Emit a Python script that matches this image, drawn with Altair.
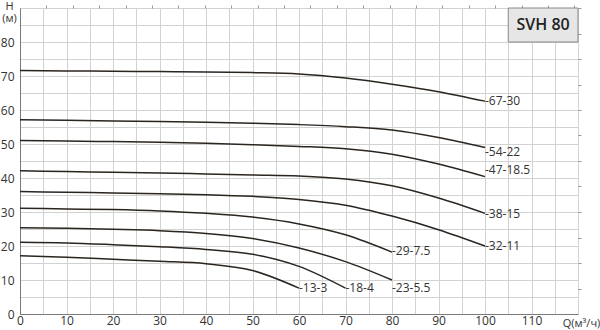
import altair as alt
import pandas as pd

# ---- data ----
series_names = ["67-30", "54-22", "47-18.5", "38-15", "32-11", "29-7.5", "23-5.5", "18-4", "13-3"]

q_full = [0, 10, 20, 30, 40, 50, 60, 70, 80, 90, 100]
q_80 = [0, 10, 20, 30, 40, 50, 60, 70, 80]
q_70 = [0, 10, 20, 30, 40, 50, 60, 70]
q_60 = [0, 10, 20, 30, 40, 50, 60]

h_67_30 = [71.6, 71.5, 71.4, 71.3, 71.2, 71.0, 70.6, 69.4, 67.6, 65.4, 62.6]
h_54_22 = [57.1, 57.0, 56.8, 56.6, 56.4, 56.1, 55.7, 55.1, 54.1, 51.9, 49.0]
h_47_18 = [51.0, 50.9, 50.7, 50.5, 50.2, 49.8, 49.3, 48.6, 47.0, 44.1, 40.4]
h_38_15 = [42.1, 41.9, 41.7, 41.5, 41.2, 40.9, 40.6, 39.7, 37.7, 34.1, 29.6]
h_32_11 = [36.0, 35.8, 35.6, 35.4, 35.1, 34.6, 33.7, 32.0, 28.8, 24.8, 20.0]
h_29_7 = [31.1, 30.9, 30.7, 30.3, 29.6, 28.5, 26.5, 23.3, 18.2]
h_23_5 = [25.4, 25.2, 24.9, 24.5, 23.7, 22.2, 19.4, 15.4, 10.0]
h_18_4 = [21.1, 20.9, 20.4, 19.8, 19.0, 17.6, 14.0, 7.6]
h_13_3 = [17.1, 16.7, 16.1, 15.5, 14.8, 12.8, 7.6]

curve_q = [q_full, q_full, q_full, q_full, q_full, q_80, q_80, q_70, q_60]
curve_h = [h_67_30, h_54_22, h_47_18, h_38_15, h_32_11, h_29_7, h_23_5, h_18_4, h_13_3]

# label anchor heights (end of each curve, nudged where labels crowd)
label_h = [62.6, 47.6, 42.4, 29.4, 20.0, 18.5, 7.6, 7.6, 7.6]

box_text = "SVH 80"
box_q = [105, 120]
box_h = [80, 90]

gpm_step = 5.678   # 25 US gpm in m3/h (top ticks)
ft_step = 7.5      # right-hand secondary ticks

rows = []
for name, qs, hs in zip(series_names, curve_q, curve_h):
    for q, h in zip(qs, hs):
        rows.append({"series": name, "Q": q, "H": h})
curves = pd.DataFrame(rows)

labels = pd.DataFrame({
    "series": series_names,
    "Q": [qs[-1] for qs in curve_q],
    "H": label_h,
    "txt": ["-" + s for s in series_names],
})

box = pd.DataFrame({"q1": [box_q[0]], "q2": [box_q[1]], "h1": [box_h[0]], "h2": [box_h[1]],
                    "qc": [(box_q[0] + box_q[1]) / 2], "hc": [(box_h[0] + box_h[1]) / 2],
                    "txt": [box_text]})

xs = alt.Scale(domain=[0, 120], nice=False, zero=False)
ys = alt.Scale(domain=[0, 90], nice=False, zero=False)

grid_x = list(range(0, 121, 5))
grid_y = list(range(0, 91, 5))

x_axis = alt.Axis(values=grid_x,
                  labelExpr="(datum.value % 10 === 0 && datum.value < 120) ? datum.label : ''",
                  grid=True, gridColor="#d2d2d2", gridWidth=1, ticks=False,
                  domainColor="#7a7a7a", labelPadding=1, labelFontSize=12,
                  labelColor="#333333", labelFlush=False,
                  title="Q(м³/ч)", titleFontSize=11, titleFontWeight="normal",
                  titleColor="#333333", titleX=561, titleY=3, titleAlign="center",
                  titleBaseline="top")
y_axis = alt.Axis(values=grid_y,
                  labelExpr="(datum.value % 10 === 0 && datum.value < 90) ? datum.label : ''",
                  grid=True, gridColor="#d2d2d2", gridWidth=1, ticks=False,
                  domainColor="#7a7a7a", labelPadding=6, labelFontSize=12,
                  labelColor="#333333", labelFlush=False,
                  title=["H", "(м)"], titleAngle=0, titleFontSize=11,
                  titleFontWeight="normal", titleColor="#333333",
                  titleX=-11, titleY=-8, titleAlign="center", titleBaseline="top",
                  titleLineHeight=12)

lines = alt.Chart(curves).mark_line(interpolate="monotone", color="#2b2520",
                                    strokeWidth=1.5).encode(
    x=alt.X("Q:Q", scale=xs, axis=x_axis),
    y=alt.Y("H:Q", scale=ys, axis=y_axis),
    detail="series:N",
)

top_vals = [round(k * gpm_step, 3) for k in range(1, 22)]
right_vals = [k * ft_step for k in range(1, 13)]

rect = alt.Chart(box).mark_rect(fill="#e6e6e6", stroke="#8a8a8a", strokeWidth=1).encode(
    x=alt.X("q1:Q", scale=xs, axis=alt.Axis(orient="top", values=top_vals, labels=False,
                                             grid=False, domain=False, tickSize=3,
                                             tickColor="#999999", title=None)),
    x2="q2:Q",
    y=alt.Y("h1:Q", scale=ys, axis=alt.Axis(orient="right", values=right_vals, labels=False,
                                             grid=False, domain=False, tickSize=3,
                                             tickColor="#999999", title=None)),
    y2="h2:Q",
)

box_label = alt.Chart(box).mark_text(fontSize=16, fontWeight=600, color="#222222",
                                     font="Open Sans").encode(
    x=alt.X("qc:Q", scale=xs, axis=None), y=alt.Y("hc:Q", scale=ys, axis=None),
    text="txt:N")

curve_labels = alt.Chart(labels).mark_text(align="left", baseline="middle", dx=0,
                                           fontSize=12, color="#333333",
                                           font="Open Sans").encode(
    x=alt.X("Q:Q", scale=xs, axis=None), y=alt.Y("H:Q", scale=ys, axis=None),
    text="txt:N")

chart = alt.layer(lines, rect, box_label, curve_labels).resolve_axis(
    x="independent", y="independent"
).properties(
    width=558, height=306,
    autosize=alt.AutoSizeParams(type="none"),
    padding={"left": 20, "top": 8, "right": 22, "bottom": 16},
    background="white",
).configure_view(stroke=None).configure(font="Open Sans")

chart.save("out.html", embed_options={"renderer": "svg", "actions": False})
